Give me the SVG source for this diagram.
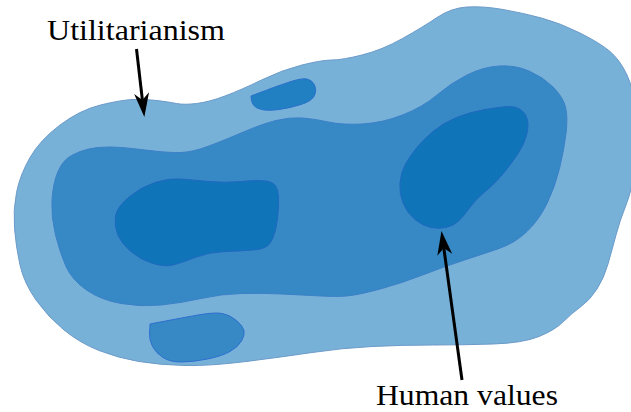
<svg xmlns="http://www.w3.org/2000/svg" width="631" height="412" viewBox="0 0 631 412">
<style>
.outer{fill:#78b1d8;stroke:#6c9bc9;stroke-width:1}
.mid{fill:#3689c4;stroke:#3c80c8;stroke-width:1}
.inner{fill:#1074b8;stroke:#2068c2;stroke-width:1}
.blob{fill:#2180c1;stroke:#2a70cc;stroke-width:1}
.lbl{font-family:"Liberation Serif","Times New Roman",serif;font-size:29px;fill:#000}
.conn{stroke:#000;stroke-width:3;fill:none;marker-end:url(#head)}
</style>
<defs>
<marker id="head" markerUnits="userSpaceOnUse" markerWidth="40" markerHeight="20" refX="0" refY="0" viewBox="-10 -10 30 20" orient="auto" overflow="visible">
<path d="M17,0 L-7,-7.5 L0,0 L-7,7.5 Z" fill="#000"/>
</marker>
</defs>
<g id="outer-region">
<path class="outer" d="M437,17.5 Q451,8 467,7 Q483,6 503,9.5 Q523,13 541.5,18 Q560,23 580,33 Q600,43 610,51.5 Q620,60 627,75 Q634,90 637,115 Q640,140 636,165 Q632,190 626,205 Q620,220 616,235 Q612,250 608,264 Q604,278 597,289 Q590,300 581,306.5 Q572,313 563.5,321.5 Q555,330 539,336.5 Q523,343 493,344 Q463,345 432.5,345 Q402,345 372,346.5 Q342,348 312,352.5 Q282,357 246,361.5 Q210,366 185,365.5 Q160,365 139,361.5 Q118,358 99,350.5 Q80,343 64,330 Q48,317 36,300 Q24,283 20,265 Q16,247 14.5,228.5 Q13,210 16.5,192.5 Q20,175 30,157.5 Q40,140 60,125 Q80,110 100.5,105 Q121,100 133,99.5 Q145,99 157,100.5 Q169,102 176.5,103.5 Q184,105 196.5,103.5 Q209,102 225,96 Q241,90 261.5,80 Q282,70 302,65 Q322,60 332,60 Q342,60 362,55 Q382,50 402.5,38.5 Q423,27 437,17.5 Z"/>
</g>
<g id="middle-region">
<path class="mid" d="M88.5,149 Q97,147 109,147 Q121,147 145,150 Q169,153 181,152.5 Q193,152 209,146 Q225,140 243.5,132 Q262,124 276,120.5 Q290,117 302.5,118 Q315,119 328.5,122 Q342,125 362,124 Q382,123 402.5,115 Q423,107 437,95 Q451,83 467,75 Q483,67 499,66 Q515,65 529,71 Q543,77 553,87 Q563,97 565.5,107 Q568,117 566,133.5 Q564,150 559.5,168.5 Q555,187 547,203.5 Q539,220 527,231.5 Q515,243 499,248.5 Q483,254 463,260.5 Q443,267 422.5,275 Q402,283 382,288.5 Q362,294 351,295.5 Q340,297 321,296 Q302,295 282,294 Q262,293 241.5,293.5 Q221,294 201,298.5 Q181,303 161,305 Q141,307 121,303.5 Q101,300 86.5,290 Q72,280 66,266.5 Q60,253 55.5,235 Q51,217 52,200 Q53,183 58,171.5 Q63,160 71.5,155.5 Q80,151 88.5,149 Z"/>
</g>
<g id="left-core">
<path class="inner" d="M115.5,216 Q117,207 129,197 Q141,187 155,182.5 Q169,178 181,179 Q193,180 209,181.5 Q225,183 241.5,181.5 Q258,180 266,181 Q274,182 276.5,187.5 Q279,193 278.5,206.5 Q278,220 275.5,230 Q273,240 269,244.5 Q265,249 253,250 Q241,251 225,251.5 Q209,252 195,257.5 Q181,263 173,265 Q165,267 153,263.5 Q141,260 131,251.5 Q121,243 117.5,234 Q114,225 115.5,216 Z"/>
</g>
<g id="right-core">
<path class="inner" d="M416.5,148 Q423,140 433,131.5 Q443,123 456.5,117.5 Q470,112 485,109.5 Q500,107 507.5,106.5 Q515,106 520.5,109.5 Q526,113 527.5,120 Q529,127 526,137 Q523,147 514,159.5 Q505,172 498,179.5 Q491,187 483.5,193 Q476,199 469.5,208 Q463,217 458,221.5 Q453,226 446,227.5 Q439,229 431,227.5 Q423,226 415,219.5 Q407,213 403,203 Q399,193 400,182.5 Q401,172 405.5,164 Q410,156 416.5,148 Z"/>
</g>
<g id="top-blob">
<path class="blob" d="M251,96 L265.5,90.5 Q280,85 291,81.5 Q302,78 307,79 Q312,80 314.5,85 Q317,90 314.5,95.5 Q312,101 301,104.5 Q290,108 279,109.5 Q268,111 261.5,109.5 Q255,108 253,104.5 Q251,101 251,96 Z"/>
</g>
<g id="bottom-blob">
<path class="mid" style="stroke:#2f6fd0" d="M150,324 L165.5,321 Q181,318 198,315 Q215,312 222.5,313.5 Q230,315 236.5,320.5 Q243,326 244,330.5 Q245,335 241.5,341 Q238,347 230,351.5 Q222,356 207.5,359 Q193,362 181.5,362 Q170,362 163,357.5 Q156,353 152.5,346.5 Q149,340 149.5,332 Q150,328 150,324 Z"/>
</g>
<g id="label-utilitarianism">
<text class="lbl" x="47" y="40" textLength="178" lengthAdjust="spacingAndGlyphs">Utilitarianism</text>
</g>
<g id="label-human-values">
<text class="lbl" x="376" y="405" textLength="182" lengthAdjust="spacingAndGlyphs">Human values</text>
</g>
<g id="connectors">
<line class="conn" x1="136.5" y1="49" x2="142.4" y2="100.1"/>
<line class="conn" x1="462" y1="380" x2="443.8" y2="247.9"/>
</g>
</svg>
